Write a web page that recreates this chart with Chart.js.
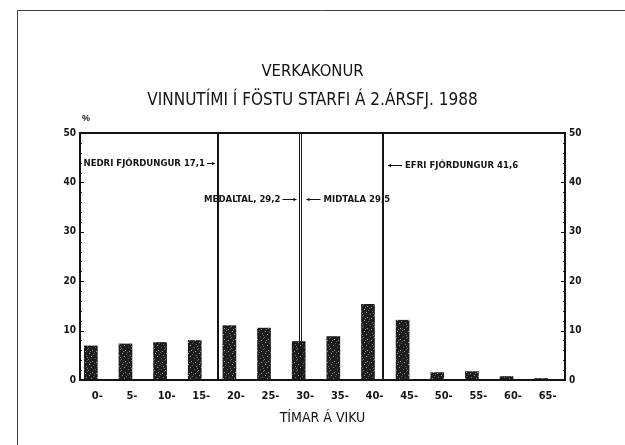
<!DOCTYPE html>
<html>
<head>
<meta charset="utf-8">
<script src="https://cdn.jsdelivr.net/npm/chart.js@4.4.0/dist/chart.umd.min.js"></script>
<style>
html,body{margin:0;padding:0;background:#fff;}
#wrap{width:625px;height:445px;position:relative;}
</style>
</head>
<body>
<div id="wrap"><canvas id="c"></canvas></div>
<script>
// ---- data ----
const categories = ['0-','5-','10-','15-','20-','25-','30-','35-','40-','45-','50-','55-','60-','65-'];
const shares = [6.9, 7.3, 7.6, 8.0, 11.0, 10.5, 7.8, 8.8, 15.3, 12.1, 1.5, 1.7, 0.7, 0.3];
const yTicks = [0, 10, 20, 30, 40, 50];
const markerNames = ['NEDRI FJÓRDUNGUR', 'MEDALTAL,', 'MIDTALA', 'EFRI FJÓRDUNGUR'];
const markerValues = [17.1, 29.2, 29.5, 41.6];

const titleText = 'VERKAKONUR';
const subtitleText = 'VINNUTÍMI Í FÖSTU STARFI Á 2.ÁRSFJ. 1988';
const xTitle = 'TÍMAR Á VIKU';
const yUnit = '%';

// pick a condensed face when one is installed
const probe = document.createElement('canvas').getContext('2d');
function hasFont(name) {
  probe.font = "100px monospace";
  const w0 = probe.measureText('VERKAKONUR mil 1988').width;
  probe.font = "100px '" + name + "', monospace";
  return Math.abs(probe.measureText('VERKAKONUR mil 1988').width - w0) > 0.5;
}
const condensed = ['Liberation Sans Narrow', 'DejaVu Sans Condensed', 'Roboto Condensed', 'Open Sans Condensed']
  .find(hasFont);
const FONT = "'Liberation Sans', Arial, sans-serif";
const NARROW = condensed ? "'" + condensed + "', " + FONT : FONT;
const INK = '#141414';

const titleSize = 16.5;
const subtitleSize = condensed ? 17 : 15.5;

// stippled bar texture (dark ink with light specks)
function makePattern() {
  const n = 11;
  const p = document.createElement('canvas');
  p.width = n; p.height = n;
  const g = p.getContext('2d');
  g.fillStyle = '#1d1d1d';
  g.fillRect(0, 0, n, n);
  const specks = [[1,1],[6,0],[9,3],[3,4],[7,6],[0,7],[4,9],[10,8],[2,10],[8,10],[5,2],[10,5]];
  specks.forEach(([a,b], k) => {
    g.fillStyle = k % 3 === 0 ? '#9a9a9a' : (k % 3 === 1 ? '#5e5e5e' : '#767676');
    g.fillRect(a, b, 1, 1);
  });
  return document.getElementById('c').getContext('2d').createPattern(p, 'repeat');
}

// marker label layout: side of the line, y-level (in %), arrow length
const markerSide = ['left', 'left', 'right', 'right'];
const markerLevel = [44.0, 36.6, 36.6, 43.6];
const markerArrow = [8, 14, 14, 14];

const fmt = v => v.toFixed(1).replace('.', ',');

const decor = {
  id: 'decor',
  beforeDraw(chart) {
    const ctx = chart.ctx;
    ctx.save();
    ctx.fillStyle = '#fff';
    ctx.fillRect(0, 0, chart.width, chart.height);
    ctx.strokeStyle = '#444';
    ctx.lineWidth = 1;
    ctx.beginPath();
    ctx.moveTo(17.5, chart.height);
    ctx.lineTo(17.5, 10.5);
    ctx.lineTo(chart.width, 10.5);
    ctx.stroke();
    ctx.restore();
  },
  afterDatasetsDraw(chart) {
    const ctx = chart.ctx;
    const a = chart.chartArea;
    const y = chart.scales.y;
    const x2 = chart.scales.x2;
    ctx.save();
    ctx.strokeStyle = INK;
    ctx.lineWidth = 2;
    ctx.strokeRect(a.left, a.top, a.right - a.left, a.bottom - a.top);
    ctx.lineWidth = 1.2;
    for (let v = 0; v <= 50; v += 2) {
      const py = Math.round(y.getPixelForValue(v)) + 0.5;
      const len = (v % 10 === 0) ? 4 : 2;
      ctx.beginPath();
      ctx.moveTo(a.left, py); ctx.lineTo(a.left + len, py);
      ctx.moveTo(a.right, py); ctx.lineTo(a.right - len, py);
      ctx.stroke();
    }
    ctx.fillStyle = INK;
    ctx.font = 'bold 9px ' + FONT;
    ctx.textAlign = 'left';
    ctx.textBaseline = 'middle';
    ctx.fillText(yUnit, a.left + 2, y.getPixelForValue(50) - 14);
    ctx.font = 'bold 9.5px ' + NARROW;
    ctx.lineWidth = 1;
    markerValues.forEach((v, i) => {
      const px = x2.getPixelForValue(v);
      const py = Math.round(y.getPixelForValue(markerLevel[i])) + 0.5;
      const txt = markerNames[i] + ' ' + fmt(v);
      const arrowLen = markerArrow[i];
      if (markerSide[i] === 'left') {
        const tipX = px - 3;
        const tailX = tipX - arrowLen;
        ctx.beginPath();
        ctx.moveTo(tailX, py); ctx.lineTo(tipX, py);
        ctx.stroke();
        ctx.beginPath();
        ctx.moveTo(tipX, py); ctx.lineTo(tipX - 3, py - 1.8); ctx.lineTo(tipX - 3, py + 1.8); ctx.closePath();
        ctx.fill();
        ctx.textAlign = 'right';
        ctx.fillText(txt, tailX - 2, py);
      } else {
        const tipX = px + 5;
        const tailX = tipX + arrowLen;
        ctx.beginPath();
        ctx.moveTo(tipX, py); ctx.lineTo(tailX, py);
        ctx.stroke();
        ctx.beginPath();
        ctx.moveTo(tipX, py); ctx.lineTo(tipX + 3, py - 1.8); ctx.lineTo(tipX + 3, py + 1.8); ctx.closePath();
        ctx.fill();
        ctx.textAlign = 'left';
        ctx.fillText(txt, tailX + 3, py);
      }
    });
    ctx.restore();
  }
};

const pattern = makePattern();

const lineWidths = [2, 1, 1, 2];
const lineSets = markerValues.map((v, i) => ({
  type: 'line',
  xAxisID: 'x2',
  yAxisID: 'y',
  data: [{x: v, y: 0}, {x: v, y: 50}],
  borderColor: INK,
  borderWidth: lineWidths[i],
  pointRadius: 0,
  fill: false,
  order: 0
}));

new Chart(document.getElementById('c'), {
  data: {
    labels: categories,
    datasets: [{
      type: 'bar',
      xAxisID: 'x',
      yAxisID: 'y',
      data: shares,
      backgroundColor: pattern,
      borderWidth: 0,
      barThickness: 13,
      order: 1
    }, ...lineSets]
  },
  options: {
    responsive: true,
    maintainAspectRatio: false,
    animation: false,
    devicePixelRatio: 1,
    layout: { padding: 0 },
    plugins: {
      legend: { display: false },
      tooltip: { enabled: false },
      title: {
        display: true,
        text: titleText,
        color: INK,
        font: { family: NARROW, size: titleSize, weight: 'normal', lineHeight: 1.2 },
        padding: { top: 72 - titleSize * 0.6, bottom: 0 }
      },
      subtitle: {
        display: true,
        text: subtitleText,
        color: INK,
        font: { family: NARROW, size: subtitleSize, weight: 'normal', lineHeight: 1.2 },
        padding: { top: 101 - 72 - titleSize * 0.6 - subtitleSize * 0.6,
                   bottom: 133 - 101 - subtitleSize * 0.6 }
      }
    },
    scales: {
      x: {
        type: 'category',
        position: 'bottom',
        offset: true,
        grid: { display: false, drawTicks: false },
        border: { display: false },
        ticks: { color: INK, padding: 10, maxRotation: 0, autoSkip: false,
                 font: { family: NARROW, size: 11, weight: 'bold' } },
        title: { display: true, text: xTitle, color: INK,
                 font: { family: NARROW, size: 14, weight: 'normal', lineHeight: 1.2 },
                 padding: { top: 0, bottom: 18.6 } },
        afterFit: s => { s.height = 65; }
      },
      x2: {
        type: 'linear',
        position: 'top',
        display: false,
        min: -3.39,
        max: 68.62
      },
      y: {
        type: 'linear',
        position: 'left',
        min: 0, max: 50,
        afterBuildTicks: s => { s.ticks = yTicks.map(v => ({ value: v })); },
        grid: { display: false, drawTicks: false },
        border: { display: false },
        ticks: { color: INK, padding: 4, font: { family: NARROW, size: 10, weight: 'bold' } },
        afterFit: s => { s.width = 80; }
      },
      y2: {
        type: 'linear',
        position: 'right',
        min: 0, max: 50,
        afterBuildTicks: s => { s.ticks = yTicks.map(v => ({ value: v })); },
        grid: { display: false, drawTicks: false },
        border: { display: false },
        ticks: { color: INK, padding: 4, font: { family: NARROW, size: 10, weight: 'bold' } },
        afterFit: s => { s.width = 60; }
      }
    }
  },
  plugins: [decor]
});
</script>
</body>
</html>
